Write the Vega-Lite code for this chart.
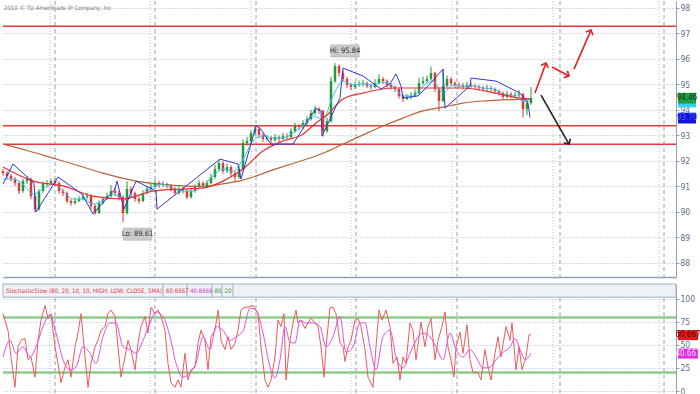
{
  "$schema": "https://vega.github.io/schema/vega-lite/v6.json",
  "padding": 0,
  "spacing": 5,
  "background": "white",
  "config": {
    "view": {"stroke": null},
    "scale": {"continuousPadding": 0},
    "axis": {"labelFont": "Liberation Sans Narrow, DejaVu Sans Condensed, sans-serif", "labelFontSize": 8.5, "labelColor": "#5f6f8a", "tickColor": "#8fa0b8", "domainColor": "#8fa0b8", "tickSize": 3, "labelPadding": 1, "labelOverlap": false}
  },
  "datasets": {
    "vl": [
      {"t": 47, "k": "dot"}, {"t": 52, "k": "dash"}, {"t": 147, "k": "dot"}, {"t": 152, "k": "dash"},
      {"t": 248, "k": "dot"}, {"t": 253, "k": "dash"}, {"t": 348, "k": "dot"}, {"t": 353, "k": "dash"},
      {"t": 449, "k": "dot"}, {"t": 454, "k": "dash"}, {"t": 550, "k": "dot"}, {"t": 557, "k": "dash"},
      {"t": 656, "k": "dot"}, {"t": 661, "k": "dash"}
    ],
    "hlines": [{"v": 97.28}, {"v": 93.38}, {"v": 92.65}],
    "candles": [
      {"t":0,"o":91.60,"h":91.68,"l":91.42,"c":91.52},{"t":4,"o":91.52,"h":91.60,"l":91.30,"c":91.41},
      {"t":8,"o":91.41,"h":91.50,"l":91.20,"c":91.29},{"t":12,"o":91.29,"h":91.37,"l":91.02,"c":91.13},
      {"t":16,"o":91.13,"h":91.20,"l":90.70,"c":90.82},{"t":20,"o":90.82,"h":91.30,"l":90.75,"c":91.21},
      {"t":24,"o":91.21,"h":91.40,"l":91.10,"c":91.29},{"t":28,"o":91.29,"h":91.35,"l":90.50,"c":90.62},
      {"t":32,"o":90.62,"h":90.70,"l":90.00,"c":90.11},{"t":36,"o":90.11,"h":90.90,"l":90.05,"c":90.82},
      {"t":40,"o":90.82,"h":91.20,"l":90.75,"c":91.09},{"t":44,"o":91.09,"h":91.25,"l":91.00,"c":91.13},
      {"t":48,"o":91.13,"h":91.30,"l":91.05,"c":91.21},{"t":52,"o":91.21,"h":91.30,"l":91.02,"c":91.13},
      {"t":56,"o":91.13,"h":91.20,"l":90.72,"c":90.82},{"t":60,"o":90.82,"h":90.92,"l":90.62,"c":90.74},
      {"t":64,"o":90.74,"h":90.80,"l":90.35,"c":90.43},{"t":68,"o":90.43,"h":90.50,"l":90.25,"c":90.35},
      {"t":72,"o":90.35,"h":90.55,"l":90.28,"c":90.43},{"t":76,"o":90.43,"h":90.62,"l":90.38,"c":90.51},
      {"t":80,"o":90.51,"h":90.70,"l":90.45,"c":90.58},{"t":84,"o":90.58,"h":90.75,"l":90.48,"c":90.62},
      {"t":88,"o":90.62,"h":90.70,"l":90.12,"c":90.23},{"t":92,"o":90.23,"h":90.30,"l":89.88,"c":89.96},
      {"t":96,"o":89.96,"h":90.45,"l":89.92,"c":90.35},{"t":100,"o":90.35,"h":90.60,"l":90.30,"c":90.51},
      {"t":104,"o":90.51,"h":90.75,"l":90.45,"c":90.62},{"t":108,"o":90.62,"h":91.05,"l":90.55,"c":90.82},
      {"t":112,"o":90.82,"h":90.95,"l":90.62,"c":90.74},{"t":116,"o":90.74,"h":90.82,"l":90.45,"c":90.58},
      {"t":120,"o":90.58,"h":90.65,"l":89.61,"c":89.96},{"t":124,"o":89.96,"h":91.20,"l":89.90,"c":90.90},
      {"t":128,"o":90.90,"h":91.00,"l":90.62,"c":90.74},{"t":132,"o":90.74,"h":90.80,"l":90.40,"c":90.51},
      {"t":136,"o":90.51,"h":90.60,"l":90.32,"c":90.43},{"t":140,"o":90.43,"h":90.85,"l":90.38,"c":90.74},
      {"t":144,"o":90.74,"h":91.00,"l":90.68,"c":90.90},{"t":148,"o":90.90,"h":91.10,"l":90.82,"c":90.98},
      {"t":152,"o":90.98,"h":91.25,"l":90.90,"c":91.13},{"t":156,"o":91.13,"h":91.22,"l":90.95,"c":91.05},
      {"t":160,"o":91.05,"h":91.20,"l":90.98,"c":91.09},{"t":164,"o":91.09,"h":91.15,"l":90.92,"c":91.02},
      {"t":168,"o":91.02,"h":91.10,"l":90.80,"c":90.90},{"t":172,"o":90.90,"h":90.98,"l":90.65,"c":90.74},
      {"t":176,"o":90.74,"h":91.00,"l":90.68,"c":90.90},{"t":180,"o":90.90,"h":90.98,"l":90.72,"c":90.82},
      {"t":184,"o":90.82,"h":90.90,"l":90.50,"c":90.58},{"t":188,"o":90.58,"h":90.92,"l":90.52,"c":90.82},
      {"t":192,"o":90.82,"h":91.08,"l":90.75,"c":90.98},{"t":196,"o":90.98,"h":91.25,"l":90.92,"c":91.13},
      {"t":200,"o":91.13,"h":91.20,"l":90.90,"c":90.98},{"t":204,"o":90.98,"h":91.25,"l":90.92,"c":91.13},
      {"t":208,"o":91.13,"h":91.50,"l":91.08,"c":91.37},{"t":212,"o":91.37,"h":91.85,"l":91.30,"c":91.68},
      {"t":216,"o":91.68,"h":92.05,"l":91.60,"c":91.92},{"t":220,"o":91.92,"h":91.98,"l":91.50,"c":91.60},
      {"t":224,"o":91.60,"h":91.90,"l":91.52,"c":91.76},{"t":228,"o":91.76,"h":91.82,"l":91.40,"c":91.52},
      {"t":232,"o":91.52,"h":91.60,"l":91.20,"c":91.37},{"t":236,"o":91.37,"h":91.80,"l":91.30,"c":91.68},
      {"t":240,"o":91.68,"h":92.85,"l":91.60,"c":92.70},{"t":244,"o":92.70,"h":92.95,"l":92.60,"c":92.78},
      {"t":248,"o":92.78,"h":93.20,"l":92.70,"c":93.09},{"t":252,"o":93.09,"h":93.40,"l":93.00,"c":93.25},
      {"t":256,"o":93.25,"h":93.30,"l":92.90,"c":93.02},{"t":260,"o":93.02,"h":93.10,"l":92.75,"c":92.86},
      {"t":264,"o":92.86,"h":93.02,"l":92.78,"c":92.90},{"t":268,"o":92.90,"h":92.98,"l":92.70,"c":92.82},
      {"t":272,"o":92.82,"h":93.05,"l":92.75,"c":92.94},{"t":276,"o":92.94,"h":93.00,"l":92.75,"c":92.86},
      {"t":280,"o":92.86,"h":93.10,"l":92.80,"c":92.98},{"t":284,"o":92.98,"h":93.08,"l":92.85,"c":92.94},
      {"t":288,"o":92.94,"h":93.28,"l":92.88,"c":93.17},{"t":292,"o":93.17,"h":93.50,"l":93.10,"c":93.37},
      {"t":296,"o":93.37,"h":93.45,"l":93.22,"c":93.33},{"t":300,"o":93.33,"h":93.60,"l":93.25,"c":93.49},
      {"t":304,"o":93.49,"h":93.75,"l":93.40,"c":93.64},{"t":308,"o":93.64,"h":94.00,"l":93.58,"c":93.88},
      {"t":312,"o":93.88,"h":94.15,"l":93.80,"c":94.03},{"t":316,"o":94.03,"h":94.10,"l":93.85,"c":93.96},
      {"t":320,"o":93.96,"h":94.00,"l":92.95,"c":93.17},{"t":324,"o":93.17,"h":93.70,"l":93.10,"c":93.56},
      {"t":328,"o":93.56,"h":95.30,"l":93.50,"c":95.13},{"t":332,"o":95.13,"h":95.84,"l":95.05,"c":95.72},
      {"t":336,"o":95.72,"h":95.78,"l":95.30,"c":95.45},{"t":340,"o":95.45,"h":95.55,"l":95.10,"c":95.21},
      {"t":344,"o":95.21,"h":95.30,"l":94.85,"c":94.98},{"t":348,"o":94.98,"h":95.05,"l":94.78,"c":94.90},
      {"t":352,"o":94.90,"h":95.10,"l":94.82,"c":94.98},{"t":356,"o":94.98,"h":95.15,"l":94.90,"c":95.02},
      {"t":360,"o":95.02,"h":95.18,"l":94.92,"c":95.05},{"t":364,"o":95.05,"h":95.12,"l":94.85,"c":94.94},
      {"t":368,"o":94.94,"h":95.02,"l":94.80,"c":94.90},{"t":372,"o":94.90,"h":95.20,"l":94.85,"c":95.05},
      {"t":376,"o":95.05,"h":95.40,"l":95.00,"c":95.21},{"t":380,"o":95.21,"h":95.30,"l":95.02,"c":95.13},
      {"t":384,"o":95.13,"h":95.20,"l":94.88,"c":94.98},{"t":388,"o":94.98,"h":95.05,"l":94.80,"c":94.90},
      {"t":392,"o":94.90,"h":94.95,"l":94.70,"c":94.82},{"t":396,"o":94.82,"h":94.88,"l":94.45,"c":94.55},
      {"t":400,"o":94.55,"h":94.60,"l":94.30,"c":94.43},{"t":404,"o":94.43,"h":94.62,"l":94.38,"c":94.51},
      {"t":408,"o":94.51,"h":94.68,"l":94.42,"c":94.55},{"t":412,"o":94.55,"h":94.80,"l":94.50,"c":94.66},
      {"t":416,"o":94.66,"h":95.25,"l":94.60,"c":95.05},{"t":420,"o":95.05,"h":95.30,"l":95.00,"c":95.13},
      {"t":424,"o":95.13,"h":95.35,"l":95.05,"c":95.21},{"t":428,"o":95.21,"h":95.70,"l":95.15,"c":95.45},
      {"t":432,"o":95.45,"h":95.50,"l":94.70,"c":94.82},{"t":436,"o":94.82,"h":94.88,"l":93.95,"c":94.35},
      {"t":440,"o":94.35,"h":95.60,"l":94.30,"c":94.94},{"t":444,"o":94.94,"h":95.35,"l":94.88,"c":95.21},
      {"t":448,"o":95.21,"h":95.28,"l":94.95,"c":95.05},{"t":452,"o":95.05,"h":95.12,"l":94.88,"c":94.98},
      {"t":456,"o":94.98,"h":95.08,"l":94.85,"c":94.94},{"t":460,"o":94.94,"h":95.05,"l":94.80,"c":94.90},
      {"t":464,"o":94.90,"h":95.10,"l":94.82,"c":94.98},{"t":468,"o":94.98,"h":95.08,"l":94.85,"c":94.94},
      {"t":472,"o":94.94,"h":95.02,"l":94.80,"c":94.90},{"t":476,"o":94.90,"h":94.98,"l":94.75,"c":94.86},
      {"t":480,"o":94.86,"h":94.95,"l":94.72,"c":94.82},{"t":484,"o":94.82,"h":94.98,"l":94.75,"c":94.86},
      {"t":488,"o":94.86,"h":94.95,"l":94.72,"c":94.82},{"t":492,"o":94.82,"h":94.88,"l":94.62,"c":94.74},
      {"t":496,"o":94.74,"h":94.80,"l":94.55,"c":94.66},{"t":500,"o":94.66,"h":94.72,"l":94.40,"c":94.51},
      {"t":504,"o":94.51,"h":94.75,"l":94.45,"c":94.62},{"t":508,"o":94.62,"h":94.70,"l":94.45,"c":94.55},
      {"t":512,"o":94.55,"h":94.70,"l":94.45,"c":94.58},{"t":516,"o":94.58,"h":94.78,"l":94.50,"c":94.62},
      {"t":520,"o":94.62,"h":94.68,"l":93.70,"c":94.03},{"t":524,"o":94.03,"h":94.40,"l":93.80,"c":94.27},
      {"t":528,"o":94.27,"h":94.90,"l":94.20,"c":94.46}
    ],
    "brown": [
      {"t":0,"v":92.66},{"t":25,"v":92.40},{"t":50,"v":92.11},{"t":75,"v":91.82},{"t":100,"v":91.52},
      {"t":133,"v":91.21},{"t":160,"v":91.08},{"t":180,"v":91.02},{"t":200,"v":91.00},{"t":220,"v":91.10},
      {"t":240,"v":91.25},{"t":270,"v":91.65},{"t":290,"v":91.90},{"t":320,"v":92.30},{"t":340,"v":92.66},
      {"t":360,"v":93.02},{"t":380,"v":93.37},{"t":400,"v":93.68},{"t":420,"v":93.96},{"t":440,"v":94.11},
      {"t":460,"v":94.27},{"t":480,"v":94.35},{"t":500,"v":94.39},{"t":527,"v":94.43}
    ],
    "redma": [
      {"t":0,"v":91.76},{"t":30,"v":91.21},{"t":60,"v":91.02},{"t":90,"v":90.62},{"t":120,"v":90.51},
      {"t":150,"v":90.82},{"t":180,"v":90.90},{"t":200,"v":90.94},{"t":220,"v":91.21},{"t":240,"v":91.68},
      {"t":260,"v":92.39},{"t":280,"v":92.78},{"t":300,"v":93.05},{"t":313,"v":93.49},{"t":323,"v":93.76},
      {"t":340,"v":94.43},{"t":360,"v":94.66},{"t":390,"v":94.86},{"t":420,"v":94.86},{"t":460,"v":94.86},
      {"t":493,"v":94.66},{"t":515,"v":94.47},{"t":527,"v":94.43}
    ],
    "cyan": [
      {"t":0,"v":91.29},{"t":10,"v":91.29},{"t":20,"v":91.09},{"t":30,"v":90.70},{"t":40,"v":90.90},
      {"t":50,"v":91.09},{"t":60,"v":90.82},{"t":70,"v":90.51},{"t":80,"v":90.51},{"t":90,"v":90.31},
      {"t":100,"v":90.43},{"t":110,"v":90.70},{"t":120,"v":90.51},{"t":130,"v":90.62},{"t":140,"v":90.70},
      {"t":150,"v":90.98},{"t":160,"v":91.09},{"t":170,"v":90.94},{"t":180,"v":90.82},{"t":190,"v":90.82},
      {"t":200,"v":91.02},{"t":210,"v":91.41},{"t":220,"v":91.68},{"t":230,"v":91.60},{"t":240,"v":92.07},
      {"t":250,"v":92.78},{"t":260,"v":92.98},{"t":270,"v":92.90},{"t":280,"v":92.90},{"t":290,"v":93.09},
      {"t":300,"v":93.37},{"t":310,"v":93.76},{"t":320,"v":93.64},{"t":330,"v":94.55},{"t":340,"v":95.13},
      {"t":350,"v":94.98},{"t":360,"v":95.02},{"t":370,"v":94.98},{"t":380,"v":95.09},{"t":390,"v":94.94},
      {"t":400,"v":94.55},{"t":410,"v":94.55},{"t":420,"v":94.94},{"t":430,"v":95.13},{"t":440,"v":94.66},
      {"t":450,"v":94.98},{"t":460,"v":94.94},{"t":470,"v":94.94},{"t":480,"v":94.86},{"t":490,"v":94.82},
      {"t":500,"v":94.62},{"t":510,"v":94.55},{"t":520,"v":94.35},{"t":527,"v":94.35}
    ],
    "blue": [
      {"t":0,"v":91.09},{"t":10,"v":91.88},{"t":31,"v":91.13},{"t":33,"v":90.00},{"t":52,"v":91.17},
      {"t":55,"v":91.37},{"t":79,"v":90.70},{"t":90,"v":89.92},{"t":112,"v":90.90},{"t":114,"v":91.21},
      {"t":121,"v":90.11},{"t":133,"v":91.21},{"t":153,"v":90.82},{"t":154,"v":90.11},{"t":217,"v":92.07},
      {"t":235,"v":91.88},{"t":238,"v":91.29},{"t":253,"v":93.37},{"t":257,"v":93.29},{"t":268,"v":92.66},
      {"t":290,"v":92.66},{"t":313,"v":94.07},{"t":318,"v":93.96},{"t":319,"v":92.98},{"t":337,"v":94.47},
      {"t":340,"v":95.64},{"t":360,"v":95.33},{"t":378,"v":94.82},{"t":387,"v":95.02},{"t":393,"v":95.41},
      {"t":398,"v":94.94},{"t":400,"v":94.47},{"t":415,"v":94.55},{"t":425,"v":94.94},{"t":440,"v":95.60},
      {"t":442,"v":94.07},{"t":467,"v":94.94},{"t":468,"v":95.25},{"t":493,"v":95.13},{"t":517,"v":94.66},
      {"t":525,"v":94.27},{"t":527,"v":93.70}
    ],
    "hilo": [
      {"t":342,"v":96.31,"txt":"Hi: 95.84"},
      {"t":134.5,"v":89.13,"txt":"Lo: 89.61"}
    ],
    "arrows": [
      {"x1":532,"y1":94.66,"x2":543,"y2":95.84,"s":"bull"},
      {"x1":549,"y1":95.68,"x2":566,"y2":95.33,"s":"bull"},
      {"x1":571,"y1":95.60,"x2":588,"y2":97.13,"s":"bull"},
      {"x1":538,"y1":94.58,"x2":566,"y2":92.66,"s":"bear"}
    ],
    "rv1": [
      {"t":684,"v":94.31,"txt":"","s":"cyan"},
      {"t":684,"v":94.46,"txt":"94.46","s":"close"},
      {"t":684,"v":93.68,"txt":"93.70","s":"sar"}
    ],
    "note": [{"t":1,"v":98.0,"txt":"2010 © TD Ameritrade IP Company, Inc"}],
    "lvl": [{"v":80},{"v":20}],
    "kline": [
      {"t":0,"v":84},{"t":5,"v":66},{"t":8,"v":37},{"t":12,"v":4},{"t":15,"v":48},{"t":18,"v":55},{"t":22,"v":57},{"t":25,"v":34},{"t":28,"v":37},{"t":32,"v":15},
      {"t":35,"v":55},{"t":38,"v":77},{"t":42,"v":93},{"t":45,"v":79},{"t":48,"v":84},{"t":52,"v":48},{"t":55,"v":30},{"t":58,"v":9},{"t":62,"v":26},{"t":65,"v":34},
      {"t":68,"v":15},{"t":72,"v":48},{"t":75,"v":63},{"t":78,"v":84},{"t":82,"v":37},{"t":85,"v":4},{"t":88,"v":30},{"t":92,"v":48},{"t":95,"v":55},{"t":98,"v":66},
      {"t":102,"v":70},{"t":105,"v":84},{"t":108,"v":88},{"t":112,"v":81},{"t":115,"v":48},{"t":118,"v":15},{"t":122,"v":37},{"t":125,"v":55},{"t":128,"v":45},{"t":132,"v":23},
      {"t":135,"v":52},{"t":138,"v":70},{"t":142,"v":81},{"t":145,"v":63},{"t":148,"v":91},{"t":152,"v":84},{"t":155,"v":88},{"t":158,"v":81},{"t":162,"v":66},{"t":165,"v":30},
      {"t":168,"v":9},{"t":172,"v":4},{"t":175,"v":12},{"t":178,"v":4},{"t":182,"v":41},{"t":185,"v":12},{"t":188,"v":23},{"t":192,"v":26},{"t":195,"v":52},{"t":198,"v":66},
      {"t":202,"v":55},{"t":205,"v":23},{"t":208,"v":59},{"t":212,"v":66},{"t":215,"v":88},{"t":218,"v":55},{"t":222,"v":45},{"t":225,"v":59},{"t":228,"v":45},{"t":232,"v":52},
      {"t":235,"v":66},{"t":238,"v":88},{"t":242,"v":91},{"t":245,"v":91},{"t":250,"v":93},{"t":255,"v":84},{"t":258,"v":48},{"t":262,"v":12},{"t":265,"v":4},{"t":268,"v":12},
      {"t":272,"v":37},{"t":275,"v":77},{"t":278,"v":70},{"t":281,"v":84},{"t":283,"v":12},{"t":287,"v":55},{"t":290,"v":74},{"t":293,"v":88},{"t":295,"v":74},{"t":298,"v":77},
      {"t":302,"v":68},{"t":305,"v":74},{"t":308,"v":79},{"t":312,"v":74},{"t":315,"v":70},{"t":318,"v":48},{"t":321,"v":15},{"t":323,"v":48},{"t":327,"v":91},{"t":330,"v":91},
      {"t":333,"v":84},{"t":337,"v":52},{"t":340,"v":48},{"t":342,"v":32},{"t":345,"v":48},{"t":348,"v":55},{"t":352,"v":77},{"t":355,"v":79},{"t":358,"v":70},{"t":362,"v":45},
      {"t":365,"v":15},{"t":370,"v":4},{"t":373,"v":48},{"t":376,"v":88},{"t":379,"v":77},{"t":383,"v":88},{"t":387,"v":70},{"t":390,"v":30},{"t":394,"v":37},{"t":397,"v":12},
      {"t":400,"v":37},{"t":403,"v":30},{"t":407,"v":74},{"t":410,"v":66},{"t":413,"v":34},{"t":418,"v":75},{"t":422,"v":48},{"t":425,"v":70},{"t":428,"v":79},{"t":432,"v":34},
      {"t":435,"v":55},{"t":439,"v":70},{"t":442,"v":86},{"t":445,"v":48},{"t":448,"v":34},{"t":451,"v":15},{"t":453,"v":48},{"t":457,"v":64},{"t":460,"v":41},{"t":464,"v":72},
      {"t":467,"v":34},{"t":470,"v":20},{"t":475,"v":20},{"t":478,"v":12},{"t":482,"v":45},{"t":485,"v":26},{"t":488,"v":12},{"t":492,"v":41},{"t":495,"v":59},{"t":498,"v":37},
      {"t":503,"v":70},{"t":507,"v":55},{"t":509,"v":74},{"t":513,"v":23},{"t":516,"v":48},{"t":519,"v":23},{"t":523,"v":37},{"t":526,"v":61},{"t":528,"v":61}
    ],
    "dline": [
      {"t":0,"v":37},{"t":7,"v":55},{"t":13,"v":41},{"t":20,"v":48},{"t":27,"v":37},{"t":33,"v":48},{"t":40,"v":70},{"t":47,"v":83},{"t":53,"v":63},{"t":60,"v":34},
      {"t":67,"v":23},{"t":73,"v":26},{"t":80,"v":48},{"t":87,"v":41},{"t":93,"v":30},{"t":100,"v":59},{"t":107,"v":74},{"t":113,"v":74},{"t":120,"v":48},{"t":127,"v":45},
      {"t":133,"v":41},{"t":140,"v":55},{"t":147,"v":74},{"t":153,"v":86},{"t":160,"v":81},{"t":167,"v":59},{"t":173,"v":30},{"t":180,"v":15},{"t":187,"v":20},{"t":193,"v":30},
      {"t":200,"v":59},{"t":207,"v":45},{"t":213,"v":70},{"t":220,"v":66},{"t":227,"v":55},{"t":233,"v":59},{"t":240,"v":65},{"t":247,"v":90},{"t":253,"v":88},{"t":260,"v":63},
      {"t":267,"v":26},{"t":272,"v":14},{"t":277,"v":34},{"t":282,"v":70},{"t":287,"v":53},{"t":292,"v":52},{"t":297,"v":77},{"t":303,"v":74},{"t":310,"v":74},{"t":317,"v":70},
      {"t":323,"v":48},{"t":330,"v":59},{"t":337,"v":81},{"t":343,"v":42},{"t":350,"v":48},{"t":357,"v":74},{"t":362,"v":74},{"t":367,"v":48},{"t":373,"v":23},{"t":380,"v":59},
      {"t":387,"v":66},{"t":393,"v":37},{"t":400,"v":25},{"t":407,"v":41},{"t":413,"v":55},{"t":420,"v":63},{"t":427,"v":59},{"t":433,"v":48},{"t":440,"v":34},{"t":447,"v":63},
      {"t":453,"v":45},{"t":460,"v":37},{"t":467,"v":45},{"t":473,"v":37},{"t":480,"v":25},{"t":487,"v":26},{"t":493,"v":34},{"t":500,"v":42},{"t":507,"v":48},{"t":512,"v":57},
      {"t":517,"v":45},{"t":522,"v":34},{"t":528,"v":41}
    ],
    "hdr": [
      {"t":3,"txt":"StochasticSlow (80, 20, 10, 10, HIGH, LOW, CLOSE, SMA)","k":"k"},
      {"t":163,"txt":"60.6667","k":"k"},
      {"t":187,"txt":"40.6666","k":"d"},
      {"t":211.5,"txt":"80","k":"l"},
      {"t":221.5,"txt":"20","k":"l"}
    ],
    "seps": [{"t":160},{"t":184},{"t":209},{"t":219},{"t":230}],
    "rv2": [
      {"t":685,"v":60.667,"txt":"60.667","s":"k"},
      {"t":685,"v":40.667,"txt":"40.667","s":"d"}
    ]
  },
  "vconcat": [
    {
      "width": 673,
      "height": 276,
      "layer": [
        {
          "data": {"name": "vl"},
          "transform": [{"filter": "datum.k == 'dash'"}],
          "mark": {"type": "rule", "color": "#98a2b0", "strokeDash": [4, 3], "strokeWidth": 1},
          "encoding": {
            "x": {"field": "t", "type": "quantitative", "title": null, "scale": {"domain": [0, 673], "nice": false, "zero": false, "padding": 0},
                  "axis": {"labels": false, "ticks": false, "grid": false, "domain": true, "domainColor": "#8fa0b8", "domainWidth": 1.5, "title": null}}
          }
        },
        {
          "data": {"name": "vl"},
          "transform": [{"filter": "datum.k == 'dot'"}],
          "mark": {"type": "rule", "color": "#b8c2ce", "strokeDash": [1, 2], "strokeWidth": 1},
          "encoding": {"x": {"field": "t", "type": "quantitative", "title": null}}
        },
        {
          "data": {"name": "hlines"},
          "mark": {"type": "rule", "color": "#e03a3a", "strokeWidth": 1.5},
          "encoding": {
            "y": {"field": "v", "type": "quantitative", "title": null, "scale": {"domain": [87.45, 98.27], "nice": false, "zero": false, "padding": 0},
                  "axis": {"orient": "right", "values": [88, 89, 90, 91, 92, 93, 94, 95, 96, 97, 98], "tickCount": 11, "labelOverlap": false, "grid": true, "gridDash": [1, 2], "gridColor": "#b0bccb", "labelFlush": false, "title": null}}
          }
        },
        {
          "data": {"name": "brown"},
          "mark": {"type": "line", "color": "#b8643c", "strokeWidth": 1.2, "interpolate": "monotone"},
          "encoding": {"x": {"field": "t", "type": "quantitative", "title": null},
            "y": {"field": "v", "type": "quantitative", "title": null, "axis": {"orient": "right", "values": [88, 89, 90, 91, 92, 93, 94, 95, 96, 97, 98], "tickCount": 11, "labelOverlap": false, "grid": true, "gridDash": [1, 2], "gridColor": "#b0bccb", "labelFlush": false, "title": null}}}
        },
        {
          "data": {"name": "candles"},
          "mark": {"type": "rule", "strokeWidth": 1},
          "encoding": {
            "x": {"field": "t", "type": "quantitative", "title": null},
            "y": {"field": "l", "type": "quantitative", "title": null, "axis": {"orient": "right", "values": [88, 89, 90, 91, 92, 93, 94, 95, 96, 97, 98], "tickCount": 11, "labelOverlap": false, "grid": true, "gridDash": [1, 2], "gridColor": "#b0bccb", "labelFlush": false, "title": null}},
            "y2": {"field": "h"},
            "color": {"condition": {"test": "datum.c >= datum.o", "value": "#1f9a3a"}, "value": "#d63b3b"}
          }
        },
        {
          "data": {"name": "candles"},
          "mark": {"type": "bar", "width": 2.5},
          "encoding": {
            "x": {"field": "t", "type": "quantitative", "title": null},
            "y": {"field": "o", "type": "quantitative", "title": null, "axis": {"orient": "right", "values": [88, 89, 90, 91, 92, 93, 94, 95, 96, 97, 98], "tickCount": 11, "labelOverlap": false, "grid": true, "gridDash": [1, 2], "gridColor": "#b0bccb", "labelFlush": false, "title": null}},
            "y2": {"field": "c"},
            "color": {"condition": {"test": "datum.c >= datum.o", "value": "#1f9a3a"}, "value": "#d63b3b"}
          }
        },
        {
          "data": {"name": "cyan"},
          "mark": {"type": "line", "color": "#3ec6e8", "strokeWidth": 1, "interpolate": "monotone"},
          "encoding": {"x": {"field": "t", "type": "quantitative", "title": null},
            "y": {"field": "v", "type": "quantitative", "title": null, "axis": {"orient": "right", "values": [88, 89, 90, 91, 92, 93, 94, 95, 96, 97, 98], "tickCount": 11, "labelOverlap": false, "grid": true, "gridDash": [1, 2], "gridColor": "#b0bccb", "labelFlush": false, "title": null}}}
        },
        {
          "data": {"name": "redma"},
          "mark": {"type": "line", "color": "#e83030", "strokeWidth": 1.2, "interpolate": "monotone"},
          "encoding": {"x": {"field": "t", "type": "quantitative", "title": null},
            "y": {"field": "v", "type": "quantitative", "title": null, "axis": {"orient": "right", "values": [88, 89, 90, 91, 92, 93, 94, 95, 96, 97, 98], "tickCount": 11, "labelOverlap": false, "grid": true, "gridDash": [1, 2], "gridColor": "#b0bccb", "labelFlush": false, "title": null}}}
        },
        {
          "data": {"name": "blue"},
          "mark": {"type": "line", "color": "#3434d4", "strokeWidth": 1},
          "encoding": {"x": {"field": "t", "type": "quantitative", "title": null},
            "y": {"field": "v", "type": "quantitative", "title": null, "axis": {"orient": "right", "values": [88, 89, 90, 91, 92, 93, 94, 95, 96, 97, 98], "tickCount": 11, "labelOverlap": false, "grid": true, "gridDash": [1, 2], "gridColor": "#b0bccb", "labelFlush": false, "title": null}}}
        },
        {
          "data": {"name": "hilo"},
          "mark": {"type": "point", "shape": "M -1 -0.43 L 1 -0.43 L 1 0.43 L -1 0.43 Z", "size": 800, "filled": true, "fill": "#cacaca", "stroke": "#a8a8a8", "strokeWidth": 0.5, "opacity": 1},
          "encoding": {"x": {"field": "t", "type": "quantitative", "title": null},
            "y": {"field": "v", "type": "quantitative", "title": null, "axis": {"orient": "right", "values": [88, 89, 90, 91, 92, 93, 94, 95, 96, 97, 98], "tickCount": 11, "labelOverlap": false, "grid": true, "gridDash": [1, 2], "gridColor": "#b0bccb", "labelFlush": false, "title": null}}}
        },
        {
          "data": {"name": "hilo"},
          "mark": {"type": "text", "font": "Liberation Sans Narrow, DejaVu Sans Condensed, sans-serif", "fontSize": 7.5, "color": "#333333", "baseline": "middle", "align": "center"},
          "encoding": {"x": {"field": "t", "type": "quantitative", "title": null},
            "y": {"field": "v", "type": "quantitative", "title": null, "axis": {"orient": "right", "values": [88, 89, 90, 91, 92, 93, 94, 95, 96, 97, 98], "tickCount": 11, "labelOverlap": false, "grid": true, "gridDash": [1, 2], "gridColor": "#b0bccb", "labelFlush": false, "title": null}},
            "text": {"field": "txt"}}
        },
        {
          "data": {"name": "arrows"},
          "mark": {"type": "rule", "strokeWidth": 1.6},
          "encoding": {
            "x": {"field": "x1", "type": "quantitative", "title": null},
            "y": {"field": "y1", "type": "quantitative", "title": null, "axis": {"orient": "right", "values": [88, 89, 90, 91, 92, 93, 94, 95, 96, 97, 98], "tickCount": 11, "labelOverlap": false, "grid": true, "gridDash": [1, 2], "gridColor": "#b0bccb", "labelFlush": false, "title": null}},
            "x2": {"field": "x2"},
            "y2": {"field": "y2"},
            "color": {"condition": {"test": "datum.s == 'bull'", "value": "#e82020"}, "value": "#222222"}
          }
        },
        {
          "data": {"name": "arrows"},
          "transform": [{"calculate": "atan2(datum.x2 - datum.x1, (datum.y2 - datum.y1) * 25.5) * 180 / PI", "as": "ang"}],
          "mark": {"type": "point", "shape": "M -1 1 L 0 0 L 1 1", "filled": false, "size": 60, "strokeWidth": 1.6, "opacity": 1},
          "encoding": {
            "x": {"field": "x2", "type": "quantitative", "title": null},
            "y": {"field": "y2", "type": "quantitative", "title": null, "axis": {"orient": "right", "values": [88, 89, 90, 91, 92, 93, 94, 95, 96, 97, 98], "tickCount": 11, "labelOverlap": false, "grid": true, "gridDash": [1, 2], "gridColor": "#b0bccb", "labelFlush": false, "title": null}},
            "angle": {"field": "ang", "type": "quantitative", "scale": null},
            "color": {"condition": {"test": "datum.s == 'bull'", "value": "#e82020"}, "value": "#222222"}
          }
        },
        {
          "data": {"name": "rv1"},
          "mark": {"type": "point", "shape": "M -1 -0.6 L 1 -0.6 L 1 0.6 L -1 0.6 Z", "size": 324, "filled": true, "opacity": 1, "clip": false},
          "encoding": {
            "x": {"field": "t", "type": "quantitative", "title": null},
            "y": {"field": "v", "type": "quantitative", "title": null, "axis": {"orient": "right", "values": [88, 89, 90, 91, 92, 93, 94, 95, 96, 97, 98], "tickCount": 11, "labelOverlap": false, "grid": true, "gridDash": [1, 2], "gridColor": "#b0bccb", "labelFlush": false, "title": null}},
            "fill": {"condition": [{"test": "datum.s == 'close'", "value": "#1e9e3e"}, {"test": "datum.s == 'sar'", "value": "#1414d8"}], "value": "#38d0f0"}
          }
        },
        {
          "data": {"name": "rv1"},
          "mark": {"type": "text", "font": "Liberation Sans Narrow, DejaVu Sans Condensed, sans-serif", "fontSize": 8, "baseline": "middle", "align": "center", "clip": false},
          "encoding": {
            "x": {"field": "t", "type": "quantitative", "title": null},
            "y": {"field": "v", "type": "quantitative", "title": null, "axis": {"orient": "right", "values": [88, 89, 90, 91, 92, 93, 94, 95, 96, 97, 98], "tickCount": 11, "labelOverlap": false, "grid": true, "gridDash": [1, 2], "gridColor": "#b0bccb", "labelFlush": false, "title": null}},
            "text": {"field": "txt"},
            "color": {"condition": [{"test": "datum.s == 'close'", "value": "#0b3d12"}, {"test": "datum.s == 'sar'", "value": "#4a5cff"}], "value": "#000000"}
          }
        },
        {
          "data": {"name": "note"},
          "mark": {"type": "text", "font": "Liberation Sans Narrow, DejaVu Sans Condensed, sans-serif", "fontSize": 6, "color": "#777777", "baseline": "middle", "align": "left"},
          "encoding": {"x": {"field": "t", "type": "quantitative", "title": null},
            "y": {"field": "v", "type": "quantitative", "title": null, "axis": {"orient": "right", "values": [88, 89, 90, 91, 92, 93, 94, 95, 96, 97, 98], "tickCount": 11, "labelOverlap": false, "grid": true, "gridDash": [1, 2], "gridColor": "#b0bccb", "labelFlush": false, "title": null}},
            "text": {"field": "txt"}}
        }
      ]
    },
    {
      "width": 673,
      "height": 110,
      "layer": [
        {
          "data": {"name": "vl"},
          "transform": [{"filter": "datum.k == 'dash'"}],
          "mark": {"type": "rule", "color": "#98a2b0", "strokeDash": [4, 3], "strokeWidth": 1},
          "encoding": {
            "x": {"field": "t", "type": "quantitative", "title": null, "scale": {"domain": [0, 673], "nice": false, "zero": false, "padding": 0}, "axis": null}
          }
        },
        {
          "data": {"name": "vl"},
          "transform": [{"filter": "datum.k == 'dot'"}],
          "mark": {"type": "rule", "color": "#b8c2ce", "strokeDash": [1, 2], "strokeWidth": 1},
          "encoding": {"x": {"field": "t", "type": "quantitative", "title": null, "axis": null}}
        },
        {
          "data": {"name": "lvl"},
          "mark": {"type": "rule", "color": "#8fcb8f", "strokeWidth": 2.5},
          "encoding": {
            "y": {"field": "v", "type": "quantitative", "title": null, "scale": {"domain": [-3.26, 116.3], "nice": false, "zero": false, "padding": 0},
                  "axis": {"orient": "right", "values": [0, 25, 50, 75, 100], "tickCount": 5, "labelOverlap": false, "grid": true, "gridDash": [1, 2], "gridColor": "#b0bccb", "labelFlush": false, "title": null}}
          }
        },
        {
          "data": {"name": "kline"},
          "mark": {"type": "line", "color": "#ee5a5a", "strokeWidth": 1},
          "encoding": {"x": {"field": "t", "type": "quantitative", "title": null, "axis": null},
            "y": {"field": "v", "type": "quantitative", "title": null, "axis": {"orient": "right", "values": [0, 25, 50, 75, 100], "tickCount": 5, "labelOverlap": false, "grid": true, "gridDash": [1, 2], "gridColor": "#b0bccb", "labelFlush": false, "title": null}}}
        },
        {
          "data": {"name": "dline"},
          "mark": {"type": "line", "color": "#e24fe2", "strokeWidth": 1, "interpolate": "monotone"},
          "encoding": {"x": {"field": "t", "type": "quantitative", "title": null, "axis": null},
            "y": {"field": "v", "type": "quantitative", "title": null, "axis": {"orient": "right", "values": [0, 25, 50, 75, 100], "tickCount": 5, "labelOverlap": false, "grid": true, "gridDash": [1, 2], "gridColor": "#b0bccb", "labelFlush": false, "title": null}}}
        },
        {
          "data": {"name": "lvl"},
          "transform": [{"filter": "datum.v == 80"}],
          "mark": {"type": "rect", "fill": "#eef1f5", "stroke": "#9fb0c4", "strokeWidth": 1},
          "encoding": {
            "x": {"datum": 0, "type": "quantitative", "axis": null},
            "x2": {"datum": 673},
            "y": {"datum": 102.0, "type": "quantitative", "axis": {"orient": "right", "values": [0, 25, 50, 75, 100], "tickCount": 5, "labelOverlap": false, "grid": true, "gridDash": [1, 2], "gridColor": "#b0bccb", "labelFlush": false, "title": null}},
            "y2": {"datum": 116.3}
          }
        },
        {
          "data": {"name": "seps"},
          "mark": {"type": "rule", "color": "#9fb0c4", "strokeWidth": 1},
          "encoding": {
            "x": {"field": "t", "type": "quantitative", "title": null, "axis": null},
            "y": {"datum": 102.0, "type": "quantitative", "axis": {"orient": "right", "values": [0, 25, 50, 75, 100], "tickCount": 5, "labelOverlap": false, "grid": true, "gridDash": [1, 2], "gridColor": "#b0bccb", "labelFlush": false, "title": null}},
            "y2": {"datum": 116.3}
          }
        },
        {
          "data": {"name": "hdr"},
          "mark": {"type": "text", "font": "Liberation Sans Narrow, DejaVu Sans Condensed, sans-serif", "fontSize": 6.1, "baseline": "middle", "align": "left"},
          "encoding": {
            "x": {"field": "t", "type": "quantitative", "title": null, "axis": null},
            "y": {"datum": 109.2, "type": "quantitative", "axis": {"orient": "right", "values": [0, 25, 50, 75, 100], "tickCount": 5, "labelOverlap": false, "grid": true, "gridDash": [1, 2], "gridColor": "#b0bccb", "labelFlush": false, "title": null}},
            "text": {"field": "txt"},
            "color": {"condition": [{"test": "datum.k == 'k'", "value": "#e0404a"}, {"test": "datum.k == 'd'", "value": "#d040d0"}], "value": "#3a9a3a"}
          }
        },
        {
          "data": {"name": "rv2"},
          "mark": {"type": "point", "shape": "M -1 -0.5 L 1 -0.5 L 1 0.5 L -1 0.5 Z", "size": 400, "filled": true, "opacity": 1, "clip": false},
          "encoding": {
            "x": {"field": "t", "type": "quantitative", "title": null, "axis": null},
            "y": {"field": "v", "type": "quantitative", "title": null, "axis": {"orient": "right", "values": [0, 25, 50, 75, 100], "tickCount": 5, "labelOverlap": false, "grid": true, "gridDash": [1, 2], "gridColor": "#b0bccb", "labelFlush": false, "title": null}},
            "fill": {"condition": {"test": "datum.s == 'k'", "value": "#e01818"}, "value": "#e628e6"}
          }
        },
        {
          "data": {"name": "rv2"},
          "mark": {"type": "text", "font": "Liberation Sans Narrow, DejaVu Sans Condensed, sans-serif", "fontSize": 8, "baseline": "middle", "align": "center", "clip": false},
          "encoding": {
            "x": {"field": "t", "type": "quantitative", "title": null, "axis": null},
            "y": {"field": "v", "type": "quantitative", "title": null, "axis": {"orient": "right", "values": [0, 25, 50, 75, 100], "tickCount": 5, "labelOverlap": false, "grid": true, "gridDash": [1, 2], "gridColor": "#b0bccb", "labelFlush": false, "title": null}},
            "text": {"field": "txt"},
            "color": {"condition": {"test": "datum.s == 'k'", "value": "#6a0000"}, "value": "#fbe0fb"}
          }
        }
      ]
    }
  ]
}
